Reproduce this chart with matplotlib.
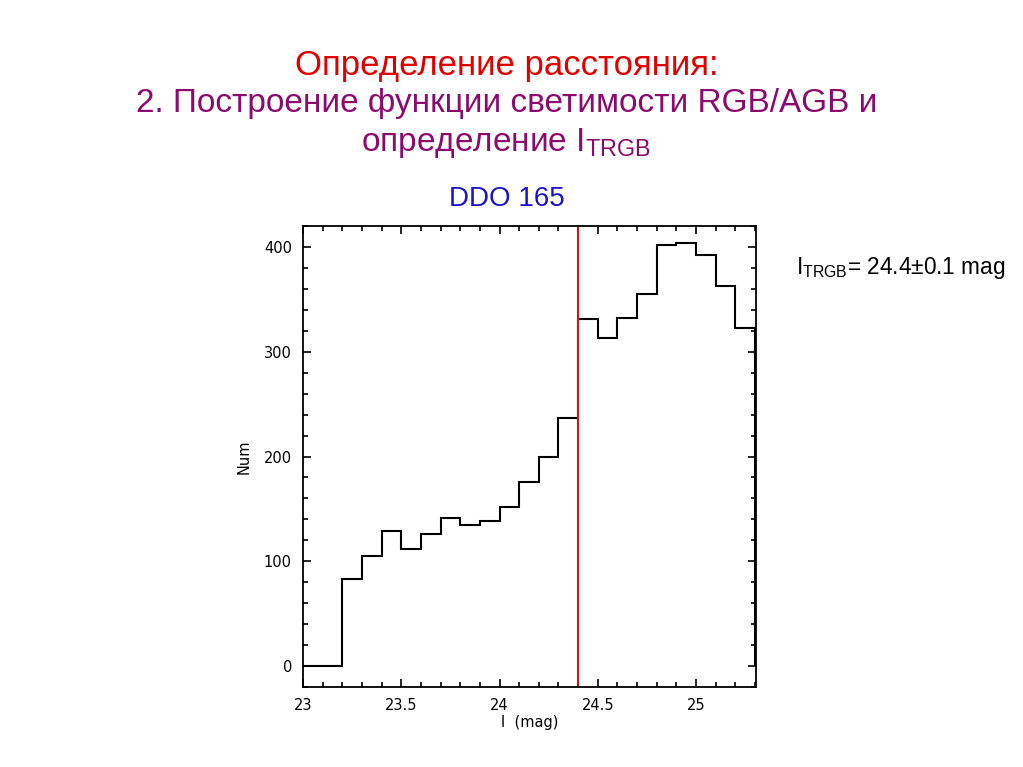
import matplotlib
matplotlib.use('Agg')
import matplotlib.pyplot as plt
import numpy as np
from matplotlib.ticker import MultipleLocator

plt.rcParams['mathtext.fontset'] = 'custom'
plt.rcParams['mathtext.rm'] = 'Liberation Sans'

# Luminosity function of DDO 165 (counts per 0.1 mag bin)
bin_edges = [23.0, 23.1, 23.2, 23.3, 23.4, 23.5, 23.6, 23.7, 23.8, 23.9, 24.0,
             24.1, 24.2, 24.3, 24.4, 24.5, 24.6, 24.7, 24.8, 24.9, 25.0,
             25.1, 25.2, 25.3]
counts = [0, 0, 83, 105, 129, 112, 126, 141, 135, 138, 152, 176, 200, 237,
          331, 313, 332, 355, 402, 404, 392, 363, 323]
i_trgb = 24.4

title1 = 'Определение расстояния:'
title2 = '2. Построение функции светимости RGB/AGB и'
title3 = r'определение $\mathregular{I_{TRGB}}$'
galaxy = 'DDO 165'
result = r'$\mathregular{I_{TRGB}}$= 24.4±0.1 mag'

fig = plt.figure(figsize=(10.23, 7.67), dpi=100)
ax = fig.add_axes([0.2962, 0.1043, 0.4428, 0.601])

ax.stairs(counts, bin_edges, baseline=0, color='black', lw=1.5)
ax.axvline(i_trgb, color='#e01010', lw=1.5)

ax.set_xlim(23, 25.305)
ax.set_ylim(-20, 420)
ax.xaxis.set_minor_locator(MultipleLocator(0.1))
ax.yaxis.set_major_locator(MultipleLocator(100))
ax.yaxis.set_minor_locator(MultipleLocator(20))
ax.set_xticks([23, 23.5, 24, 24.5, 25])
ax.set_xticklabels(['23', '23.5', '24', '24.5', '25'])
ax.tick_params(which='both', direction='in', top=True, right=True,
               labelsize=10.5, width=1.2)
ax.tick_params(which='major', length=6, pad=8)
ax.tick_params(which='minor', length=3.5)
for s in ax.spines.values():
    s.set_linewidth(1.3)
ax.set_xlabel('I  (mag)', fontsize=10.5, labelpad=1)
ax.set_ylabel('Num', fontsize=10.5, labelpad=9)

tf = 'Liberation Sans'
fig.text(0.495, 0.914, title1, ha='center', va='center', fontsize=25,
         color='#e00000', family=tf)
fig.text(0.495, 0.865, title2, ha='center', va='center', fontsize=24,
         color='#8c0a6e', family=tf)
fig.text(0.495, 0.814, title3, ha='center', va='center', fontsize=24,
         color='#8c0a6e', family=tf)
fig.text(0.495, 0.740, galaxy, ha='center', va='center', fontsize=20,
         color='#1a14c8', family=tf)
fig.text(0.778, 0.651, result, ha='left', va='center', fontsize=16.3,
         color='black', family=tf)

fig.savefig('out.png', dpi=100)
